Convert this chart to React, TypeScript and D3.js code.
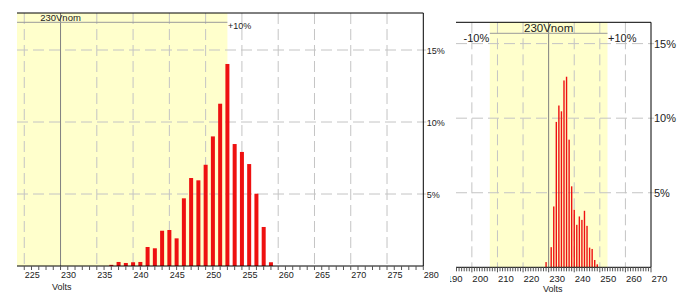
import React from "react";
import * as d3 from "d3";

// Left histogram (1 V bins)
const leftVolts = [237, 238, 239, 240, 241, 242, 243, 244, 245, 246, 247, 248, 249, 250, 251, 252, 253, 254, 255, 256, 257, 258, 259];
const leftPct = [0.08, 0.28, 0.21, 0.26, 0.28, 1.32, 1.23, 2.45, 2.5, 1.92, 4.7, 6.11, 5.95, 7.03, 9.0, 11.27, 14.03, 8.47, 7.92, 7.08, 5.02, 2.71, 0.26];
const leftXTicks = [225, 230, 235, 240, 245, 250, 255, 260, 265, 270, 275, 280];

// Right histogram (1 V bins)
const rightVolts = [229, 230, 231, 232, 233, 234, 235, 236, 237, 238, 239, 240, 241, 242, 243, 244, 245, 246, 247, 248, 249];
const rightPct = [0.35, 0, 1.35, 4.08, 9.75, 10.85, 10.46, 12.53, 12.78, 8.56, 5.43, 3.86, 2.85, 3.41, 3.18, 3.79, 2.78, 1.32, 1.23, 0.49, 0.2];
const rightXTicks = [190, 200, 210, 220, 230, 240, 250, 260, 270];

const yTicks = [5, 10, 15];
const yTickLabels = ["5%", "10%", "15%"];
const nominal = 230;
const lowLimit = 207;
const highLimit = 253;

const FONT = "'Liberation Sans', Arial, sans-serif";
const YELLOW = "#ffffcc";
const RED = "#ee1111";
const GRID = "#c4c4c4";

export default function App() {
  // Left chart scales
  const xL = d3.scaleLinear().domain([224, 280]).range([17, 423.3]);
  const yL = d3.scaleLinear().domain([0, 17.57]).range([266, 13]);
  // Right chart scales
  const xR = d3.scaleLinear().domain([193.8, 270]).range([456, 651]);
  const yR = d3.scaleLinear().domain([0, 16.43]).range([267.3, 22.3]);

  const [l0, l1] = xL.range();
  const [lb, lt] = yL.range();
  const [r0, r1] = xR.range();
  const [rb, rt] = yR.range();

  const leftMinor = d3.range(225, 281, 1);
  const rightMinor = d3.range(194, 271, 1);

  return (
    <svg width={693} height={303} style={{ position: "absolute", left: 0, top: 0, background: "#fff" }} fontFamily={FONT}>
      <defs>
        <clipPath id="rclip">
          <rect x={450} y={0} width={243} height={303} />
        </clipPath>
      </defs>

      {/* ===== LEFT CHART ===== */}
      <rect x={l0} y={lt} width={xL(highLimit) - l0} height={lb - lt} fill={YELLOW} />
      {leftXTicks.filter(v => v !== nominal && v < 280).map(v => (
        <line key={"lgv" + v} x1={xL(v)} x2={xL(v)} y1={lt} y2={lb} stroke={GRID} strokeDasharray="11,5" />
      ))}
      {yTicks.map(v => (
        <line key={"lgh" + v} x1={l0} x2={l1 + 3} y1={yL(v)} y2={yL(v)} stroke={GRID} strokeDasharray="11,5" />
      ))}
      {leftVolts.map((v, i) => (
        <rect key={"lb" + v} x={xL(v) - 2} y={yL(leftPct[i])} width={4} height={lb - yL(leftPct[i])} fill={RED} />
      ))}
      <line x1={xL(nominal)} x2={xL(nominal)} y1={lt} y2={lb} stroke="#808080" />
      <line x1={l0} x2={xL(highLimit)} y1={22.3} y2={22.3} stroke="#9a9a9a" />
      <text x={xL(nominal)} y={20.5} fontSize={9.5} textAnchor="middle" fill="#222">230Vnom</text>
      <text x={xL(highLimit) + 0.5} y={28.5} fontSize={9} fill="#222">+10%</text>
      {/* borders */}
      <line x1={l0} x2={l1} y1={lt} y2={lt} stroke="#000" />
      <line x1={l1} x2={l1} y1={lt} y2={lb} stroke="#000" />
      <line x1={l0} x2={l1} y1={lb} y2={lb} stroke="#000" />
      {leftMinor.map(v => (
        <line key={"lt" + v} x1={xL(v)} x2={xL(v)} y1={lb} y2={lb + 4} stroke="#555" />
      ))}
      {leftXTicks.map(v => (
        <text key={"lxl" + v} x={xL(v) + 0.5} y={278} fontSize={9} fill="#222">{v}</text>
      ))}
      <text x={52} y={289.5} fontSize={9} fill="#222">Volts</text>
      {yTicks.map((v, i) => (
        <text key={"lyl" + v} x={l1 + 3.5} y={yL(v) + 3.5} fontSize={9} fill="#222">{yTickLabels[i]}</text>
      ))}

      {/* ===== RIGHT CHART ===== */}
      <rect x={xR(lowLimit)} y={rt} width={xR(highLimit) - xR(lowLimit)} height={rb - rt} fill={YELLOW} />
      {rightXTicks.filter(v => v !== nominal && v > 193.8 && v < 270).map(v => (
        <line key={"rgv" + v} x1={xR(v)} x2={xR(v)} y1={rt} y2={rb} stroke={GRID} strokeDasharray="11,5" />
      ))}
      {yTicks.map(v => (
        <line key={"rgh" + v} x1={r0} x2={r1 + 3} y1={yR(v)} y2={yR(v)} stroke={GRID} strokeDasharray="11,5" />
      ))}
      {rightVolts.map((v, i) => (
        <rect key={"rb" + v} x={xR(v) - 0.7} y={yR(rightPct[i])} width={1.4} height={rb - yR(rightPct[i])} fill={RED} />
      ))}
      <line x1={xR(nominal)} x2={xR(nominal)} y1={rt} y2={rb} stroke="#808080" />
      <line x1={xR(lowLimit)} x2={xR(highLimit)} y1={33.3} y2={33.3} stroke="#9a9a9a" />
      <text x={xR(nominal)} y={31.5} fontSize={11.5} textAnchor="middle" fill="#222">230Vnom</text>
      <text x={xR(lowLimit) - 0.5} y={41.5} fontSize={11} textAnchor="end" fill="#222">-10%</text>
      <text x={xR(highLimit) + 0.5} y={41.5} fontSize={11} fill="#222">+10%</text>
      <line x1={r0} x2={r1} y1={rt} y2={rt} stroke="#000" />
      <line x1={r1} x2={r1} y1={rt} y2={rb} stroke="#000" />
      <line x1={r0} x2={r1} y1={rb} y2={rb} stroke="#000" />
      {rightMinor.map(v => (
        <line key={"rt" + v} x1={xR(v)} x2={xR(v)} y1={rb} y2={rb + (v % 10 === 0 ? 5 : 4)} stroke="#555" />
      ))}
      <g clipPath="url(#rclip)">
        {rightXTicks.map(v => (
          <text key={"rxl" + v} x={xR(v) + 0.5} y={281.5} fontSize={9.5} fill="#222">{v}</text>
        ))}
      </g>
      <text x={543} y={291.5} fontSize={9} fill="#222">Volts</text>
      {yTicks.map((v, i) => (
        <text key={"ryl" + v} x={r1 + 3} y={yR(v) + 4} fontSize={11} fill="#222">{yTickLabels[i]}</text>
      ))}
    </svg>
  );
}
